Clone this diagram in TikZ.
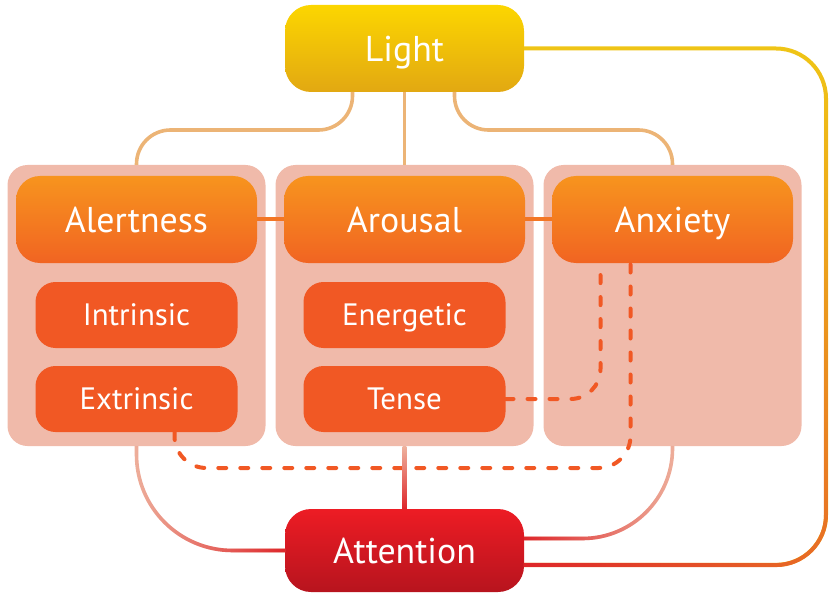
\documentclass[tikz,border=0pt]{standalone}
\usepackage{fontspec}
\setsansfont{PT Sans}
\usetikzlibrary{positioning}
\usetikzlibrary{fadings}

\definecolor{lightTop}{RGB}{252,214,0}
\definecolor{lightBot}{RGB}{226,168,18}
\definecolor{headTop}{RGB}{247,148,30}
\definecolor{headBot}{RGB}{241,100,34}
\definecolor{subRed}{RGB}{241,88,36}
\definecolor{panelPink}{RGB}{240,186,170}
\definecolor{attTop}{RGB}{237,28,36}
\definecolor{attBot}{RGB}{183,20,30}
\definecolor{tanLink}{RGB}{236,180,118}
\definecolor{headLink}{RGB}{243,118,36}
\definecolor{salmonLink}{RGB}{238,178,158}
\definecolor{redLink}{RGB}{222,38,42}
\definecolor{loopYellow}{RGB}{240,198,22}
\definecolor{loopOrange}{RGB}{233,110,38}

\tikzfading[name=fade to left, left color=transparent!0, right color=transparent!100]
\tikzfading[name=fade to right, left color=transparent!100, right color=transparent!0]
\tikzfading[name=fade to bottom, top color=transparent!100, bottom color=transparent!0]

\begin{document}
\begin{tikzpicture}[font=\sffamily,
	panel/.style={minimum width=6.45cm,minimum height=7.025cm,outer sep=0pt,rounded corners=0.5cm,fill=panelPink},
	head/.style={minimum width=6.025cm,minimum height=2.175cm,outer sep=0pt,rounded corners=0.6cm,top color=headTop,bottom color=headBot,text=white,font=\sffamily\fontsize{25.5}{30}\selectfont,text height=0.63cm,text depth=0pt},
	sub/.style={minimum width=5.05cm,minimum height=1.65cm,outer sep=0pt,rounded corners=0.5cm,fill=subRed,text=white,font=\sffamily\fontsize{22}{26}\selectfont,text height=0.54cm,text depth=0pt},
	link/.style={line width=0.09cm},
	dashlink/.style={line width=0.1cm,draw=subRed,dash pattern=on 0.2cm off 0.35cm,line cap=round,rounded corners=0.75cm}]

	\useasboundingbox (0,0) rectangle (20.725,-14.9);

	\node [panel] at (10.1125,-7.6375) (arousal_bg) {};
	\node [panel,left=0.25cm of arousal_bg] (alert_bg) {};
	\node [panel,right=0.25cm of arousal_bg] (anxiety_bg) {};

	\node [head,below=0.275cm of alert_bg.north] (alert) {Alertness};
	\node [head,below=0.275cm of arousal_bg.north] (arousal) {Arousal};
	\node [head,below=0.275cm of anxiety_bg.north] (anxiety) {Anxiety};

	\node [sub,below=0.475cm of alert] (alert_in) {Intrinsic};
	\node [sub,below=0.45cm of alert_in] (alert_ex) {Extrinsic};
	\node [sub,below=0.475cm of arousal] (arousal_en) {Energetic};
	\node [sub,below=0.45cm of arousal_en] (arousal_te) {Tense};

	\node [head,minimum width=5.975cm,rounded corners=0.65cm,top color=lightTop,bottom color=lightBot,above=1.825cm of arousal_bg] (light) {Light};
	\node [head,minimum width=5.975cm,minimum height=2.075cm,rounded corners=0.65cm,top color=attTop,bottom color=attBot,below=1.575cm of arousal_bg] (attention) {Attention};

	\coordinate (loop_right) at (20.65,-7);

	\draw [link,draw=tanLink,rounded corners=0.85cm] ([xshift=-1.3cm]light.south) -- ++(0,-0.95) -| (alert_bg.north);
	\draw [link,draw=tanLink] (light.south) -- (arousal_bg.north);
	\draw [link,draw=tanLink,rounded corners=0.85cm] ([xshift=1.25cm]light.south) -- ++(0,-0.95) -| (anxiety_bg.north);

	\draw [link,draw=headLink,line width=0.1cm] (alert.east) -- (arousal.west);
	\draw [link,draw=headLink,line width=0.1cm] (arousal.east) -- (anxiety.west);

	\draw [dashlink] (arousal_te.east) -| ([xshift=-1.8cm]anxiety.south);
	\draw [dashlink,rounded corners=0.8cm] ([xshift=0.95cm]alert_ex.south) -- ++(0,-0.9) -| ([xshift=-1.05cm]anxiety.south);

	\draw [link,draw=salmonLink,rounded corners=2.4cm] (alert_bg.south) |- (attention.west);
	\draw [link,draw=redLink,rounded corners=2.4cm,path fading=fade to right] (alert_bg.south) |- (attention.west) ([shift={(-0.1,0.1)}]alert_bg.south) ([yshift=-0.1cm]attention.west);

	\shade [top color=salmonLink,bottom color=redLink] ([xshift=-0.045cm]arousal_bg.south) rectangle ([xshift=0.045cm]attention.north);

	\draw [link,draw=salmonLink,rounded corners=2.25cm] (anxiety_bg.south) |- ([yshift=0.3cm]attention.east);
	\draw [link,draw=redLink,rounded corners=2.25cm,path fading=fade to left] (anxiety_bg.south) |- ([yshift=0.3cm]attention.east) ([shift={(0.1,0.1)}]anxiety_bg.south) ([yshift=0.2cm]attention.east);

	\draw [link,draw=loopYellow,line width=0.1cm,rounded corners=1.25cm] (light.east) -| (loop_right) |- ([yshift=-0.36cm]attention.east);
	\draw [link,draw=loopOrange,line width=0.1cm,rounded corners=1.25cm,path fading=fade to bottom] (light.east) -| (loop_right) |- ([yshift=-0.36cm]attention.east) ([yshift=0.1cm]light.east) ([yshift=-0.46cm]attention.east);
	\draw [link,draw=redLink,line width=0.1cm,rounded corners=1.25cm,path fading=fade to left] ([yshift=-0.36cm]attention.east) -| (loop_right) ([yshift=-0.46cm]attention.east);
\end{tikzpicture}
\end{document}
